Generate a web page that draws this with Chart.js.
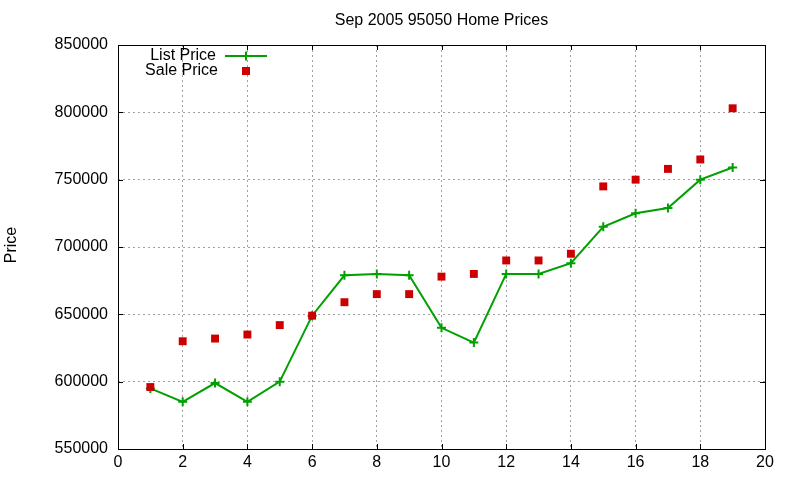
<!DOCTYPE html>
<html>
<head>
<meta charset="utf-8">
<script src="https://cdn.jsdelivr.net/npm/chart.js@4.4.1/dist/chart.umd.min.js"></script>
<style>
  html, body { margin: 0; padding: 0; background: #fff; overflow: hidden; }
  #wrap { width: 800px; height: 480px; position: relative; }
</style>
</head>
<body>
<div id="wrap"><canvas id="c" width="800" height="480"></canvas></div>
<script>
const chartTitle = 'Sep 2005 95050 Home Prices';
const yAxisTitle = 'Price';
const xValues = [1,2,3,4,5,6,7,8,9,10,11,12,13,14,15,16,17,18,19];
const listPrice = [595000,585000,599000,585000,600000,649000,679000,680000,679000,640000,629000,680000,680000,688000,715000,725000,729000,750000,759000];
const salePrice = [596000,630000,632000,635000,642000,649000,659000,665000,665000,678000,680000,690000,690000,695000,745000,750000,758000,765000,803000];
const seriesNames = ['List Price', 'Sale Price'];
const xTicks = [0,2,4,6,8,10,12,14,16,18,20];
const yTicks = [550000,600000,650000,700000,750000,800000,850000];

const FONT = 'Liberation Sans, Arial, Helvetica, sans-serif';
const GREEN = '#00a000';
const RED = '#cc0000';

const toPts = (ys) => xValues.map((x, i) => ({ x: x, y: ys[i] }));

const decor = {
  id: 'decor',
  afterDraw(chart) {
    const ctx = chart.ctx;
    const a = chart.chartArea;
    const xs = chart.scales.x, ys = chart.scales.y;
    ctx.save();
    // border
    ctx.strokeStyle = '#000';
    ctx.lineWidth = 1;
    ctx.setLineDash([]);
    ctx.strokeRect(Math.round(a.left) + 0.5, Math.round(a.top) + 0.5,
                   Math.round(a.right - a.left), Math.round(a.bottom - a.top));
    // inward ticks
    const TL = 5;
    ctx.beginPath();
    yTicks.forEach(v => {
      const y = Math.round(ys.getPixelForValue(v)) + 0.5;
      ctx.moveTo(a.left, y); ctx.lineTo(a.left + TL, y);
      ctx.moveTo(a.right, y); ctx.lineTo(a.right - TL, y);
    });
    xTicks.forEach(v => {
      const x = Math.round(xs.getPixelForValue(v)) + 0.5;
      ctx.moveTo(x, a.bottom); ctx.lineTo(x, a.bottom - TL);
      ctx.moveTo(x, a.top); ctx.lineTo(x, a.top + TL);
    });
    ctx.stroke();
    // title
    ctx.fillStyle = '#000';
    ctx.font = '16px ' + FONT;
    ctx.textAlign = 'center';
    ctx.textBaseline = 'middle';
    ctx.fillText(chartTitle, (a.left + a.right) / 2, 21);
    // y axis title
    ctx.save();
    ctx.translate(12, 245);
    ctx.rotate(-Math.PI / 2);
    ctx.fillText(yAxisTitle, 0, 0);
    ctx.restore();
    // legend
    ctx.textAlign = 'right';
    ctx.fillText(seriesNames[0], 216, 56);
    ctx.fillText(seriesNames[1], 218, 71);
    ctx.strokeStyle = GREEN;
    ctx.lineWidth = 2;
    ctx.beginPath();
    ctx.moveTo(225, 56); ctx.lineTo(267, 56);
    ctx.moveTo(246, 51.5); ctx.lineTo(246, 60.5);
    ctx.stroke();
    ctx.fillStyle = RED;
    ctx.fillRect(242, 67, 8, 8);
    ctx.restore();
  }
};

new Chart(document.getElementById('c'), {
  type: 'scatter',
  data: {
    datasets: [
      {
        label: seriesNames[0],
        data: toPts(listPrice),
        showLine: true,
        borderColor: GREEN,
        backgroundColor: GREEN,
        borderWidth: 2,
        pointStyle: 'cross',
        pointRadius: 4.5,
        pointBorderWidth: 2,
        pointBorderColor: GREEN,
        tension: 0,
        order: 1
      },
      {
        label: seriesNames[1],
        data: toPts(salePrice),
        showLine: false,
        backgroundColor: RED,
        borderColor: RED,
        pointStyle: 'rect',
        pointRadius: 5.6,
        pointBorderWidth: 0,
        order: 0
      }
    ]
  },
  plugins: [decor],
  options: {
    responsive: false,
    animation: false,
    events: [],
    layout: { padding: { top: 45, right: 35, bottom: 11, left: 0 } },
    plugins: {
      legend: { display: false },
      title: { display: false },
      tooltip: { enabled: false }
    },
    scales: {
      x: {
        type: 'linear',
        min: 0, max: 20,
        afterFit: s => { s.height = 20; },
        afterBuildTicks: s => { s.ticks = xTicks.map(v => ({ value: v })); },
        ticks: { color: '#000', font: { family: FONT, size: 16 }, padding: 4, callback: v => String(v), maxRotation: 0 },
        grid: { color: '#a0a0a0', lineWidth: 1, drawTicks: false },
        border: { display: false, dash: [2, 3] }
      },
      y: {
        type: 'linear',
        min: 550000, max: 850000,
        afterFit: s => { s.width = 118; },
        afterBuildTicks: s => { s.ticks = yTicks.map(v => ({ value: v })); },
        ticks: { color: '#000', font: { family: FONT, size: 16 }, padding: 10, callback: v => String(v) },
        grid: { color: '#a0a0a0', lineWidth: 1, drawTicks: false },
        border: { display: false, dash: [2, 3] }
      }
    }
  }
});
</script>
</body>
</html>
